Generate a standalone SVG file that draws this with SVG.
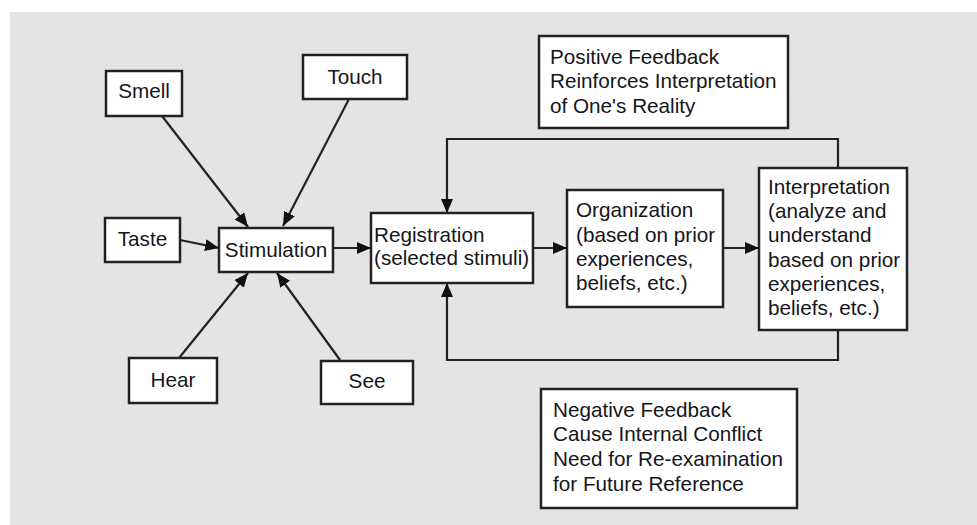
<svg xmlns="http://www.w3.org/2000/svg" width="977" height="525" viewBox="0 0 977 525">
<style>
.box{fill:#fff;stroke:#222;stroke-width:2.5}
.t{font-family:"Liberation Sans",Arial,sans-serif;font-size:20.7px;fill:#151520}
.c{text-anchor:middle}
.ln{fill:none;stroke:#222;stroke-width:2.2}
</style>
<defs>
<marker id="ah" markerUnits="userSpaceOnUse" markerWidth="15" markerHeight="13" refX="14" refY="6" orient="auto">
<path d="M0,0 L14,6 L0,12 z" fill="#111"/>
</marker>
</defs>
<rect width="977" height="525" fill="#fff"/>
<rect x="10" y="12" width="967" height="513" fill="#e4e4e4"/>
<g id="connectors">
<line class="ln" x1="162" y1="116" x2="248" y2="227" marker-end="url(#ah)"/>
<line class="ln" x1="349" y1="99" x2="283" y2="226" marker-end="url(#ah)"/>
<line class="ln" x1="180" y1="240" x2="219" y2="248" marker-end="url(#ah)"/>
<line class="ln" x1="333" y1="248" x2="371" y2="248" marker-end="url(#ah)"/>
<line class="ln" x1="179" y1="358" x2="248" y2="273" marker-end="url(#ah)"/>
<line class="ln" x1="340" y1="360" x2="277" y2="273" marker-end="url(#ah)"/>
<line class="ln" x1="533" y1="248" x2="567" y2="248" marker-end="url(#ah)"/>
<line class="ln" x1="723" y1="248" x2="759" y2="248" marker-end="url(#ah)"/>
<polyline class="ln" points="838,168 838,139 447,139 447,213" marker-end="url(#ah)"/>
<polyline class="ln" points="838,330 838,360 447,360 447,283" marker-end="url(#ah)"/>
</g>
<g id="smell"><rect class="box" x="106" y="71" width="76" height="45"/><text class="t c" x="144" y="98">Smell</text></g>
<g id="touch"><rect class="box" x="303" y="55" width="104" height="44"/><text class="t c" x="355" y="84">Touch</text></g>
<g id="taste"><rect class="box" x="105" y="218" width="75" height="44"/><text class="t c" x="142.5" y="246">Taste</text></g>
<g id="stimulation"><rect class="box" x="219" y="228" width="114" height="44"/><text class="t c" x="276" y="257">Stimulation</text></g>
<g id="hear"><rect class="box" x="129" y="358" width="88" height="45"/><text class="t c" x="173" y="387">Hear</text></g>
<g id="see"><rect class="box" x="321" y="361" width="92" height="43"/><text class="t c" x="367" y="388">See</text></g>
<g id="registration"><rect class="box" x="371" y="213" width="162" height="70"/>
<text class="t" x="374" y="242">Registration</text><text class="t" x="374" y="265">(selected stimuli)</text></g>
<g id="organization"><rect class="box" x="567" y="190" width="156" height="117"/>
<text class="t" x="576" y="217">Organization</text><text class="t" x="576" y="242">(based on prior</text><text class="t" x="576" y="266">experiences,</text><text class="t" x="576" y="290">beliefs, etc.)</text></g>
<g id="interpretation"><rect class="box" x="759" y="168" width="148" height="162"/>
<text class="t" x="768" y="194">Interpretation</text><text class="t" x="768" y="218">(analyze and</text><text class="t" x="768" y="242">understand</text><text class="t" x="768" y="267">based on prior</text><text class="t" x="768" y="291">experiences,</text><text class="t" x="768" y="315">beliefs, etc.)</text></g>
<g id="positive"><rect class="box" x="539" y="36" width="249" height="92"/>
<text class="t" x="550" y="64">Positive Feedback</text><text class="t" x="550" y="88">Reinforces Interpretation</text><text class="t" x="550" y="113">of One's Reality</text></g>
<g id="negative"><rect class="box" x="541" y="389" width="256" height="119"/>
<text class="t" x="553" y="417">Negative Feedback</text><text class="t" x="553" y="441">Cause Internal Conflict</text><text class="t" x="553" y="466">Need for Re-examination</text><text class="t" x="553" y="491">for Future Reference</text></g>
</svg>
